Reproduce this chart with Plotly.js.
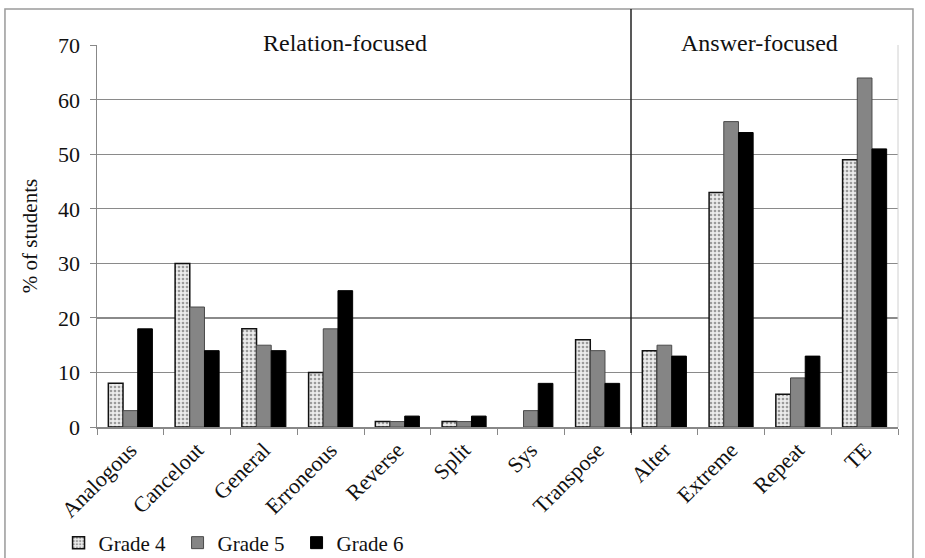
<!DOCTYPE html>
<html>
<head>
<meta charset="utf-8">
<script src="https://cdn.plot.ly/plotly-3.0.1.min.js"></script>
<style>html,body{margin:0;padding:0;background:#fff;}#chart{width:925px;height:558px;}</style>
</head>
<body>
<div id="chart"></div>
<script>
const categories = ["Analogous","Cancelout","General","Erroneous","Reverse","Split","Sys","Transpose","Alter","Extreme","Repeat","TE"];
const grade4 = [8, 30, 18, 10, 1, 1, 0, 16, 14, 43, 6, 49];
const grade5 = [3, 22, 15, 18, 1, 1, 3, 14, 15, 56, 9, 64];
const grade6 = [18, 14, 14, 25, 2, 2, 8, 8, 13, 54, 13, 51];
const seriesNames = ["Grade 4", "Grade 5", "Grade 6"];
const groupLabels = ["Relation-focused", "Answer-focused"];
const yTicks = [0, 10, 20, 30, 40, 50, 60, 70];

const serif = "Liberation Serif";
const pad = "\u00a0\u00a0\u00a0";
const outline = (vals, w) => vals.map(v => (v === 0 ? 0 : w));

const traces = [
  {type: "bar", name: seriesNames[0], x: categories, y: grade4,
   marker: {color: "#e4e4e4", line: {color: "#111", width: outline(grade4, 1.5)},
            pattern: {shape: ".", fgcolor: "#9a9a9a", bgcolor: "#ececec", size: 4, solidity: 0.35}}},
  {type: "bar", name: seriesNames[1], x: categories, y: grade5,
   marker: {color: "#858585", line: {color: "#4a4a4a", width: outline(grade5, 1)}}},
  {type: "bar", name: seriesNames[2], x: categories, y: grade6,
   marker: {color: "#000", line: {color: "#000", width: outline(grade6, 1)}}}
];

const layout = {
  width: 925, height: 558,
  margin: {l: 97, r: 27, t: 45, b: 131, autoexpand: false},
  paper_bgcolor: "#fff", plot_bgcolor: "#fff",
  font: {family: serif, size: 21, color: "#111"},
  barmode: "group", bargap: 0.34, bargroupgap: 0,
  showlegend: true,
  legend: {orientation: "h", x: -0.048, xanchor: "left", y: -0.25, yanchor: "top",
           font: {family: serif, size: 21, color: "#111"}, itemwidth: 30,
           entrywidth: 74, entrywidthmode: "pixels", bgcolor: "rgba(0,0,0,0)", traceorder: "normal"},
  xaxis: {type: "category", tickangle: -45, tickson: "boundaries", ticks: "outside", ticklen: 6,
          tickcolor: "#888", showline: true, linecolor: "#888", linewidth: 1.5, showgrid: false,
          tickfont: {family: serif, size: 22, color: "#111"}, fixedrange: true},
  yaxis: {range: [0, 70.05], tickvals: yTicks, ticktext: yTicks.map(String), ticks: "outside", ticklen: 6,
          tickcolor: "#888", showline: true, linecolor: "#888", linewidth: 1.5, ticklabelstandoff: 5,
          showgrid: true, gridcolor: "#8a8a8a", gridwidth: 1.2, zeroline: false,
          tickfont: {family: serif, size: 22, color: "#111"},
          title: {text: "% of students", font: {family: serif, size: 21, color: "#111"}, standoff: 14}},
  shapes: [
    {type: "rect", xref: "paper", yref: "paper", x0: -0.1149, x1: 1.0187, y0: -0.36, y1: 1.0942,
     line: {color: "#9a9a9a", width: 1.5}, fillcolor: "rgba(0,0,0,0)", layer: "below"},
    {type: "line", xref: "x", yref: "paper", x0: 7.5, x1: 7.5, y0: -0.016, y1: 1.0942,
     line: {color: "#222", width: 1.5}},
    {type: "line", xref: "paper", yref: "paper", x0: 1, x1: 1, y0: 0, y1: 1,
     line: {color: "#d0d0d0", width: 1}}
  ],
  annotations: [
    {xref: "x", yref: "y", x: 3.22, y: 70, text: pad + groupLabels[0] + pad, showarrow: false,
     bgcolor: "#fff", borderpad: 0, font: {family: serif, size: 24, color: "#111"}, yshift: 2},
    {xref: "x", yref: "y", x: 9.42, y: 70, text: pad + groupLabels[1] + pad, showarrow: false,
     bgcolor: "#fff", borderpad: 0, font: {family: serif, size: 24, color: "#111"}, yshift: 2}
  ]
};

Plotly.newPlot("chart", traces, layout, {displayModeBar: false, staticPlot: true});
</script>
</body>
</html>
